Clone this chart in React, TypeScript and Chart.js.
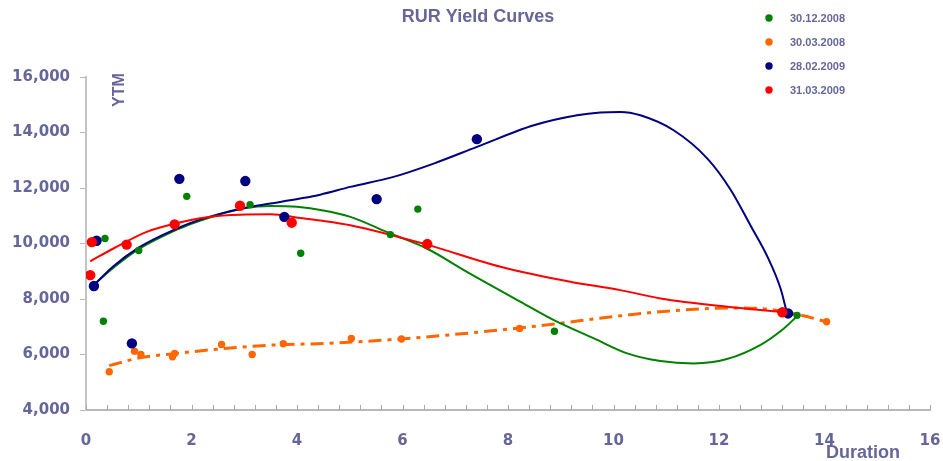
import React, { useEffect, useRef } from "react";
import { Chart, registerables } from "chart.js";

Chart.register(...registerables);

const TEXT = "#66669a";
const AXIS = "#c4c4c4";

// Legend labels
const seriesNames = ["30.12.2008", "30.03.2008", "28.02.2009", "31.03.2009"];
const seriesColors = ["#008000", "#ff6600", "#000080", "#ff0000"];

// 30.12.2008 points
const greenX = [0.33, 0.36, 1.0, 1.91, 3.11, 4.07, 5.77, 6.29, 8.88, 13.48];
const greenY = [7200, 10180, 9750, 11700, 11400, 9650, 10320, 11240, 6840, 7410];
// 30.12.2008 trend
const greenTrendX = [0.15, 0.52, 0.99, 1.47, 1.97, 2.5, 3.0, 3.5, 4.0, 4.5, 5.01, 5.77, 6.46, 7.22, 8.24, 8.87, 9.63, 10.26, 10.89, 11.52, 12.15, 12.78, 13.23, 13.48];
const greenTrendY = [8520, 9130, 9790, 10280, 10690, 11030, 11270, 11350, 11320, 11190, 10960, 10360, 9820, 8980, 7900, 7240, 6580, 6040, 5764, 5680, 5836, 6340, 6940, 7380];

// 30.03.2008 points
const orangeX = [0.44, 0.92, 1.04, 1.64, 1.68, 2.57, 3.15, 3.74, 5.03, 5.98, 8.22, 14.04];
const orangeY = [5380, 6120, 6000, 5920, 6040, 6360, 6000, 6390, 6580, 6560, 6940, 7180];
// 30.03.2008 trend
const orangeTrendX = [0.44, 1.02, 1.67, 2.54, 3.43, 4.69, 5.96, 7.3, 8.8, 9.97, 11.27, 12.28, 12.9, 13.55, 14.0];
const orangeTrendY = [5600, 5880, 6030, 6200, 6330, 6410, 6560, 6780, 7080, 7360, 7600, 7680, 7640, 7420, 7200];

// 28.02.2009 points
const blueX = [0.15, 0.2, 0.87, 1.77, 3.02, 3.76, 5.51, 7.41, 13.31];
const blueY = [8470, 10100, 6400, 12330, 12250, 10960, 11600, 13760, 7480];
// 28.02.2009 trend
const blueTrendX = [0.15, 0.52, 0.99, 1.47, 1.97, 2.5, 3.0, 3.5, 4.06, 4.44, 5.01, 5.83, 6.59, 7.41, 8.49, 9.31, 9.75, 10.13, 10.51, 11.14, 11.78, 12.22, 12.6, 12.92, 13.17, 13.29];
const blueTrendY = [8500, 9180, 9840, 10320, 10730, 11050, 11280, 11440, 11620, 11760, 12040, 12400, 12880, 13480, 14260, 14620, 14720, 14740, 14620, 14080, 13060, 11940, 10640, 9520, 8360, 7480];

// 31.03.2009 points
const redX = [0.08, 0.11, 0.77, 1.68, 2.92, 3.9, 6.47, 13.2];
const redY = [8860, 10050, 9960, 10690, 11360, 10750, 9980, 7520];
// 31.03.2009 trend
const redTrendX = [0.08, 0.52, 1.15, 1.69, 2.3, 2.92, 3.5, 4.06, 4.44, 5.01, 6.46, 7.86, 9.18, 10.13, 10.89, 12.16, 13.17];
const redTrendY = [9360, 9820, 10420, 10720, 10950, 11040, 11050, 10920, 10830, 10660, 9960, 9160, 8620, 8320, 8020, 7720, 7540];

// Axis settings
const xMin = 0, xMax = 16, xStep = 2, xMinorStep = 0.4;
const yMin = 4000, yMax = 16000, yStep = 2000;

const zip = (xs: number[], ys: number[]) => xs.map((x, i) => ({ x, y: ys[i] }));

export default function App() {
  const ref = useRef<HTMLCanvasElement>(null);
  useEffect(() => {
    if (!ref.current) return;

    const decor = {
      id: "decor",
      beforeDatasetsDraw(chart: any) {
        const { ctx, scales } = chart;
        const xs = scales.x;
        const y0 = scales.y.getPixelForValue(yMin);
        ctx.save();
        ctx.strokeStyle = "#a8a8a8";
        ctx.lineWidth = 1;
        for (let v = xMin; v <= xMax + 1e-9; v += xMinorStep) {
          const px = Math.round(xs.getPixelForValue(v)) + 0.5;
          ctx.beginPath();
          ctx.moveTo(px, y0);
          ctx.lineTo(px, y0 - 5);
          ctx.stroke();
        }
        ctx.restore();
      },
      afterDraw(chart: any) {
        const { ctx } = chart;
        ctx.save();
        ctx.fillStyle = TEXT;
        ctx.textBaseline = "middle";
        ctx.textAlign = "center";
        ctx.font = "bold 18px 'Liberation Sans', Arial, sans-serif";
        ctx.fillText("RUR Yield Curves", 478, 17);
        // legend
        ctx.font = "bold 11px 'Liberation Sans', Arial, sans-serif";
        ctx.textAlign = "left";
        seriesNames.forEach((n, i) => {
          const cy = 18 + i * 24;
          ctx.fillStyle = seriesColors[i];
          ctx.beginPath();
          ctx.arc(769, cy, 3.7, 0, Math.PI * 2);
          ctx.fill();
          ctx.fillStyle = TEXT;
          ctx.fillText(n, 790, cy + 1);
        });
        // axis titles
        ctx.font = "bold 18px 'Liberation Sans', Arial, sans-serif";
        ctx.fillText("Duration", 826, 453);
        ctx.translate(120, 90);
        ctx.rotate(-Math.PI / 2);
        ctx.textAlign = "center";
        ctx.font = "bold 16px 'Liberation Sans', Arial, sans-serif";
        ctx.fillText("YTM", 0, 0);
        ctx.restore();
      },
    };

    const pts = (data: any, color: string, r: number, order: number) => ({
      data,
      showLine: false,
      pointRadius: r,
      pointBackgroundColor: color,
      pointBorderWidth: 0,
      borderColor: color,
      order,
    });
    const line = (data: any, color: string, order: number, dash?: number[], w = 2) => ({
      data,
      showLine: true,
      pointRadius: 0,
      borderColor: color,
      borderWidth: w,
      borderDash: dash || [],
      cubicInterpolationMode: "monotone",
      fill: false,
      order,
    });

    const chart = new Chart(ref.current, {
      type: "scatter",
      data: {
        datasets: [
          pts(zip(redX, redY), "#ff0000", 5.2, 1),
          pts(zip(blueX, blueY), "#000080", 5.2, 2),
          pts(zip(greenX, greenY), "#008000", 3.7, 3),
          pts(zip(orangeX, orangeY), "#ff6600", 3.7, 4),
          line(zip(redTrendX, redTrendY), "#ff0000", 5),
          line(zip(blueTrendX, blueTrendY), "#000080", 6),
          line(zip(greenTrendX, greenTrendY), "#008000", 7),
          line(zip(orangeTrendX, orangeTrendY), "#ff6600", 8, [13, 6, 4, 6], 3),
        ] as any,
      },
      options: {
        animation: false,
        responsive: true,
        maintainAspectRatio: false,
        layout: { padding: { top: 77, right: 13, left: 0, bottom: 0 } },
        plugins: { legend: { display: false }, tooltip: { enabled: false }, title: { display: false } },
        scales: {
          x: {
            type: "linear",
            min: xMin,
            max: xMax,
            afterFit: (s: any) => { s.height = 51; },
            grid: { display: false, drawTicks: true, tickLength: 20 },
            border: { display: true, color: "#b8b8b8", width: 2 },
            ticks: {
              stepSize: xStep,
              padding: 2,
              color: TEXT,
              font: { family: "'DejaVu Sans', Verdana, sans-serif", size: 15, weight: "bold" },
            },
          },
          y: {
            min: yMin,
            max: yMax,
            afterFit: (s: any) => { s.width = 86; },
            grid: { display: true, drawOnChartArea: false, drawTicks: true, tickLength: 6, color: "#b8b8b8" },
            border: { display: true, color: AXIS, width: 2 },
            ticks: {
              stepSize: yStep,
              padding: 10,
              color: TEXT,
              font: { family: "'DejaVu Sans', Verdana, sans-serif", size: 15, weight: "bold" },
              callback: (v: any) => Number(v).toLocaleString("en-US"),
            },
          },
        },
      } as any,
      plugins: [decor],
    });
    return () => chart.destroy();
  }, []);

  return (
    <div style={{ position: "absolute", left: 0, top: 0, width: 943, height: 461, background: "#fff" }}>
      <canvas ref={ref} />
    </div>
  );
}
